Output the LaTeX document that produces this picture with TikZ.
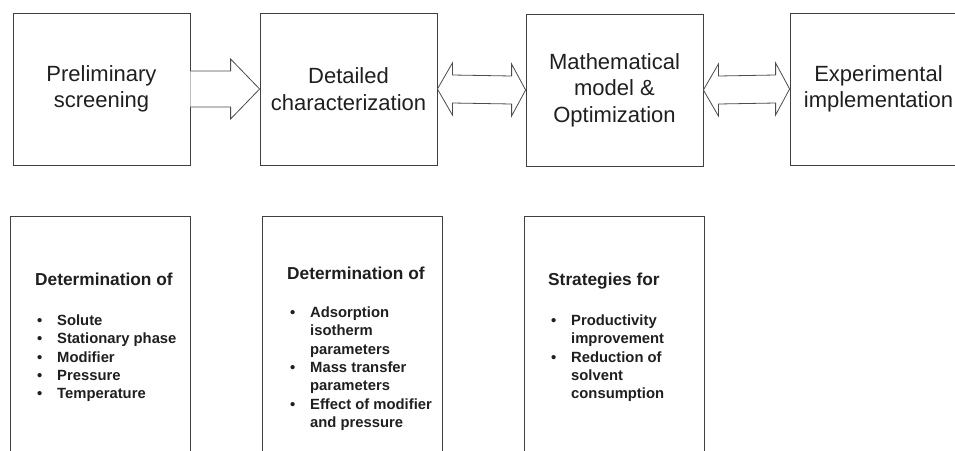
\documentclass[tikz,border=0pt]{standalone}
\usepackage{fontspec}
\setmainfont{Liberation Sans}
\usetikzlibrary{calc}
\begin{document}
\begin{tikzpicture}[x=1pt,y=-1pt,
  stage/.style={draw=black!75, line width=0.8pt, rectangle, minimum width=177pt,
    minimum height=152pt, inner sep=0pt, align=center, text=black!88,
    font=\fontsize{22}{26.5}\selectfont},
  detail/.style={draw=black!75, line width=0.8pt, rectangle, minimum width=180pt,
    minimum height=260pt, inner sep=0pt, anchor=north west},
  heading/.style={anchor=base west, inner sep=0pt, text=black!88,
    font=\fontsize{17.3}{20}\selectfont\bfseries},
  items/.style={anchor=base west, inner sep=0pt, text=black!88,
    font=\fontsize{14.8}{18.3}\selectfont\bfseries},
  blockarrow/.style={draw=black!70, line width=0.8pt, fill=white, line join=miter}
]
\useasboundingbox (0,0) rectangle (955,450);
\clip (0,0) rectangle (955,450);

% process stages
\node[stage] (b1) at (101.5,89) {Preliminary\\screening};
\node[stage] (b2) at (348.5,89) {Detailed\\characterization};
\node[stage] (b3) at (614.5,90) {Mathematical\\model \&\\Optimization};
\node[stage] (b4) at (878.5,89) {Experimental\\implementation};

% one-way arrow
\draw[blockarrow] ($(b1.east)+(0,-18)$) -- ($(b2.west)+(-29,-18)$) -- ($(b2.west)+(-29,-30)$)
  -- (b2.west) -- ($(b2.west)+(-29,30)$) -- ($(b2.west)+(-29,18)$) -- ($(b1.east)+(0,18)$);

% two-way arrows
\foreach \l/\r in {b2/b3, b3/b4}{
  \draw[blockarrow] (\l.east) -- ($(\l.east)+(15,-26)$) -- ($(\l.east)+(15,-14)$)
    -- ($(\r.west)+(-14,-14)$) -- ($(\r.west)+(-14,-26)$) -- (\r.west)
    -- ($(\r.west)+(-14,26)$) -- ($(\r.west)+(-14,14)$) -- ($(\l.east)+(15,14)$)
    -- ($(\l.east)+(15,26)$) -- cycle;
}

% detail boxes
\node[detail] (d1) at (10,216) {};
\node[detail] (d2) at (262,216) {};
\node[detail] (d3) at (524,216) {};

\node[heading] (h1) at (35,285) {Determination of};
\node[items] (l1) at (37,325.5) {\begin{tabular}[t]{@{}p{20pt}@{}l@{}}
  •&Solute\\ •&Stationary phase\\ •&Modifier\\ •&Pressure\\ •&Temperature
\end{tabular}};

\node[heading] (h2) at (287,279) {Determination of};
\node[items] (l2) at (290,317.5) {\begin{tabular}[t]{@{}p{20pt}@{}l@{}}
  •&Adsorption\\ &isotherm\\ &parameters\\ •&Mass transfer\\ &parameters\\
  •&Effect of modifier\\ &and pressure
\end{tabular}};

\node[heading] (h3) at (548,285) {Strategies for};
\node[items] (l3) at (551,325.5) {\begin{tabular}[t]{@{}p{20pt}@{}l@{}}
  •&Productivity\\ &improvement\\ •&Reduction of\\ &solvent\\ &consumption
\end{tabular}};
\end{tikzpicture}
\end{document}
